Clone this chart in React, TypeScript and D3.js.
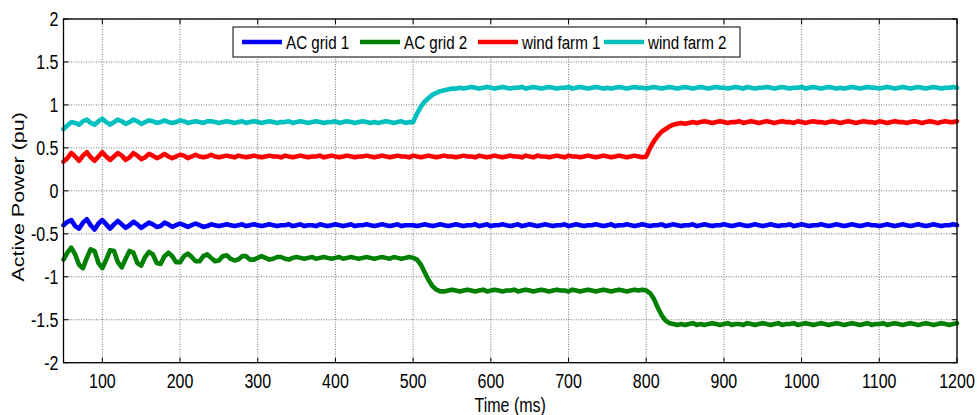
import React from "react";
import * as d3 from "d3";

// Sampling grid of the simulated traces (ms)
const T_START = 50;
const T_END = 1200;
const T_STEP = 5;

const xTicks = [100, 200, 300, 400, 500, 600, 700, 800, 900, 1000, 1100, 1200];
const yTicks = [-2, -1.5, -1, -0.5, 0, 0.5, 1, 1.5, 2];
const yTickLabels = ["-2", "-1.5", "-1", "-0.5", "0", "0.5", "1", "1.5", "2"];

const seriesNames = ["AC grid 1", "AC grid 2", "wind farm 1", "wind farm 2"];
const seriesColors = ["#0000ff", "#008000", "#ff0000", "#00bfbf"];

// Active power (pu), one value every 5 ms from 50 ms to 1200 ms
const acGrid1 = [
  -0.40,-0.36,-0.34,-0.41,-0.44,-0.37,-0.33,-0.40,-0.45,-0.38,-0.34,-0.39,-0.44,-0.39,-0.35,-0.39,-0.43,-0.40,-0.36,-0.39,
  -0.43,-0.40,-0.37,-0.39,-0.42,-0.41,-0.37,-0.39,-0.42,-0.40,-0.38,-0.40,-0.42,-0.40,-0.38,-0.40,-0.42,-0.41,-0.39,-0.40,
  -0.41,-0.40,-0.39,-0.40,-0.41,-0.40,-0.39,-0.41,-0.40,-0.39,-0.40,-0.41,-0.40,-0.39,-0.40,-0.41,-0.40,-0.40,-0.39,-0.41,
  -0.40,-0.39,-0.41,-0.40,-0.40,-0.41,-0.39,-0.40,-0.41,-0.40,-0.39,-0.40,-0.41,-0.40,-0.39,-0.41,-0.40,-0.40,-0.39,-0.40,
  -0.41,-0.40,-0.39,-0.40,-0.41,-0.40,-0.39,-0.41,-0.40,-0.40,-0.40,-0.41,-0.40,-0.39,-0.40,-0.41,-0.40,-0.39,-0.40,-0.41,
  -0.40,-0.39,-0.40,-0.41,-0.40,-0.40,-0.39,-0.41,-0.40,-0.39,-0.41,-0.40,-0.40,-0.39,-0.40,-0.41,-0.40,-0.39,-0.41,-0.40,
  -0.39,-0.40,-0.41,-0.40,-0.39,-0.40,-0.41,-0.40,-0.40,-0.39,-0.41,-0.40,-0.39,-0.40,-0.41,-0.40,-0.40,-0.39,-0.40,-0.41,
  -0.40,-0.39,-0.41,-0.40,-0.40,-0.39,-0.40,-0.41,-0.40,-0.39,-0.40,-0.41,-0.40,-0.40,-0.39,-0.41,-0.40,-0.39,-0.40,-0.41,
  -0.40,-0.40,-0.39,-0.41,-0.40,-0.39,-0.40,-0.41,-0.40,-0.40,-0.39,-0.40,-0.41,-0.40,-0.39,-0.40,-0.41,-0.40,-0.39,-0.40,
  -0.41,-0.40,-0.39,-0.40,-0.41,-0.40,-0.40,-0.39,-0.41,-0.40,-0.39,-0.40,-0.41,-0.40,-0.40,-0.39,-0.40,-0.41,-0.40,-0.39,
  -0.40,-0.41,-0.40,-0.39,-0.40,-0.41,-0.40,-0.39,-0.40,-0.40,-0.41,-0.40,-0.39,-0.40,-0.41,-0.40,-0.39,-0.40,-0.41,-0.40,
  -0.39,-0.40,-0.41,-0.40,-0.39,-0.40,-0.41,-0.40,-0.40,-0.39,-0.40,
];

const acGrid2 = [
  -0.80,-0.72,-0.66,-0.74,-0.86,-0.90,-0.78,-0.68,-0.70,-0.84,-0.90,-0.80,-0.69,-0.70,-0.83,-0.89,-0.79,-0.70,-0.72,-0.84,
  -0.87,-0.77,-0.71,-0.74,-0.84,-0.85,-0.76,-0.72,-0.76,-0.83,-0.83,-0.76,-0.73,-0.77,-0.82,-0.82,-0.76,-0.74,-0.78,-0.82,
  -0.81,-0.76,-0.75,-0.79,-0.81,-0.80,-0.76,-0.76,-0.80,-0.80,-0.78,-0.76,-0.78,-0.80,-0.79,-0.77,-0.77,-0.79,-0.80,-0.78,
  -0.77,-0.78,-0.79,-0.78,-0.77,-0.79,-0.78,-0.77,-0.78,-0.79,-0.78,-0.77,-0.79,-0.78,-0.77,-0.78,-0.79,-0.78,-0.77,-0.78,
  -0.79,-0.78,-0.77,-0.78,-0.79,-0.77,-0.78,-0.79,-0.78,-0.77,-0.78,-0.80,-0.86,-0.95,-1.04,-1.11,-1.15,-1.17,-1.17,-1.16,
  -1.15,-1.16,-1.17,-1.16,-1.15,-1.16,-1.17,-1.16,-1.15,-1.17,-1.16,-1.15,-1.16,-1.17,-1.16,-1.16,-1.15,-1.17,-1.16,-1.15,
  -1.16,-1.17,-1.16,-1.15,-1.16,-1.17,-1.16,-1.15,-1.16,-1.16,-1.17,-1.15,-1.16,-1.17,-1.16,-1.15,-1.16,-1.17,-1.16,-1.15,
  -1.16,-1.17,-1.16,-1.15,-1.16,-1.17,-1.16,-1.15,-1.16,-1.15,-1.16,-1.19,-1.26,-1.36,-1.45,-1.51,-1.54,-1.55,-1.56,-1.55,
  -1.56,-1.55,-1.54,-1.56,-1.55,-1.56,-1.55,-1.54,-1.55,-1.56,-1.55,-1.54,-1.56,-1.55,-1.55,-1.56,-1.54,-1.55,-1.56,-1.55,
  -1.54,-1.55,-1.56,-1.55,-1.54,-1.56,-1.55,-1.55,-1.54,-1.56,-1.55,-1.54,-1.55,-1.56,-1.55,-1.54,-1.55,-1.56,-1.55,-1.54,
  -1.55,-1.56,-1.55,-1.54,-1.55,-1.56,-1.55,-1.54,-1.56,-1.55,-1.55,-1.54,-1.56,-1.55,-1.54,-1.55,-1.56,-1.55,-1.54,-1.55,
  -1.56,-1.55,-1.54,-1.55,-1.56,-1.55,-1.54,-1.55,-1.56,-1.55,-1.54,
];

const windFarm1 = [
  0.34,0.38,0.44,0.40,0.35,0.41,0.45,0.39,0.35,0.40,0.45,0.40,0.36,0.40,0.44,0.41,0.36,0.39,0.44,0.41,
  0.37,0.39,0.43,0.41,0.38,0.40,0.43,0.40,0.38,0.40,0.42,0.41,0.38,0.40,0.42,0.40,0.39,0.40,0.42,0.40,
  0.39,0.40,0.41,0.40,0.39,0.41,0.40,0.39,0.40,0.41,0.40,0.39,0.40,0.41,0.40,0.40,0.39,0.41,0.40,0.39,
  0.40,0.41,0.40,0.39,0.40,0.40,0.41,0.39,0.40,0.41,0.40,0.39,0.40,0.41,0.40,0.39,0.40,0.40,0.41,0.40,
  0.39,0.40,0.41,0.40,0.39,0.40,0.41,0.40,0.40,0.39,0.41,0.40,0.39,0.40,0.41,0.40,0.39,0.40,0.41,0.40,
  0.40,0.39,0.40,0.41,0.40,0.40,0.39,0.41,0.40,0.39,0.40,0.41,0.40,0.39,0.40,0.41,0.40,0.40,0.39,0.41,
  0.40,0.39,0.41,0.40,0.40,0.39,0.40,0.41,0.40,0.39,0.41,0.40,0.40,0.39,0.40,0.41,0.40,0.39,0.40,0.41,
  0.40,0.39,0.40,0.41,0.40,0.39,0.40,0.41,0.40,0.39,0.40,0.50,0.58,0.64,0.69,0.72,0.75,0.77,0.78,0.79,
  0.78,0.79,0.80,0.79,0.80,0.81,0.80,0.79,0.80,0.81,0.80,0.79,0.80,0.80,0.81,0.79,0.80,0.81,0.80,0.79,
  0.80,0.81,0.80,0.79,0.80,0.81,0.80,0.80,0.79,0.81,0.80,0.79,0.80,0.81,0.80,0.80,0.79,0.80,0.81,0.80,
  0.79,0.80,0.81,0.80,0.79,0.80,0.81,0.80,0.80,0.79,0.81,0.80,0.79,0.80,0.81,0.80,0.80,0.79,0.80,0.81,
  0.80,0.79,0.80,0.81,0.80,0.79,0.80,0.81,0.80,0.80,0.81,
];

const windFarm2 = [
  0.72,0.76,0.80,0.79,0.77,0.81,0.83,0.79,0.77,0.81,0.84,0.80,0.77,0.80,0.83,0.81,0.78,0.80,0.83,0.81,
  0.78,0.80,0.82,0.81,0.79,0.80,0.82,0.80,0.79,0.80,0.82,0.81,0.79,0.80,0.81,0.80,0.79,0.81,0.81,0.80,
  0.79,0.80,0.81,0.80,0.79,0.80,0.81,0.79,0.80,0.81,0.80,0.79,0.80,0.81,0.80,0.79,0.80,0.80,0.81,0.79,
  0.80,0.81,0.80,0.79,0.80,0.81,0.80,0.79,0.80,0.80,0.81,0.79,0.80,0.81,0.80,0.79,0.80,0.81,0.80,0.79,
  0.80,0.79,0.80,0.81,0.80,0.79,0.80,0.81,0.79,0.80,0.80,0.90,0.98,1.04,1.08,1.12,1.14,1.16,1.17,1.18,
  1.19,1.19,1.20,1.19,1.20,1.21,1.20,1.19,1.20,1.21,1.20,1.19,1.20,1.21,1.20,1.19,1.20,1.20,1.21,1.19,
  1.20,1.21,1.20,1.19,1.20,1.21,1.20,1.19,1.20,1.20,1.21,1.19,1.20,1.21,1.20,1.19,1.20,1.21,1.20,1.19,
  1.20,1.19,1.20,1.21,1.20,1.19,1.20,1.21,1.20,1.20,1.19,1.20,1.21,1.20,1.19,1.20,1.21,1.20,1.19,1.20,
  1.21,1.20,1.19,1.20,1.21,1.20,1.19,1.20,1.21,1.20,1.20,1.19,1.20,1.21,1.20,1.19,1.21,1.20,1.19,1.20,
  1.20,1.21,1.20,1.19,1.20,1.21,1.20,1.19,1.20,1.20,1.21,1.19,1.20,1.21,1.20,1.19,1.20,1.21,1.20,1.19,
  1.20,1.19,1.20,1.21,1.20,1.19,1.20,1.21,1.20,1.20,1.19,1.20,1.21,1.20,1.19,1.20,1.21,1.20,1.19,1.20,
  1.21,1.20,1.19,1.20,1.21,1.20,1.19,1.20,1.20,1.21,1.20,
];

const seriesValues = [acGrid1, acGrid2, windFarm1, windFarm2];

const W = 978;
const H = 415;
const PLOT = { left: 63.5, right: 957, top: 19, bottom: 362.7 };
const FONT = "'Liberation Sans', Arial, sans-serif";
const SQUEEZE = 0.8;

export default function App() {
  const times = d3.range(T_START, T_END + T_STEP / 2, T_STEP);
  const x = d3.scaleLinear().domain([T_START, T_END]).range([PLOT.left, PLOT.right]);
  const y = d3.scaleLinear().domain([-2, 2]).range([PLOT.bottom, PLOT.top]);

  const line = d3
    .line<number>()
    .x((_, i) => x(times[i]))
    .y((v) => y(v));

  // legend layout: sample line start for each entry
  const legendBox = { x: 233, y: 27, w: 507, h: 30 };
  const legendLineX = [242, 360, 478, 604];
  const legendLineLen = 40;
  const legendMidY = legendBox.y + legendBox.h / 2;

  return (
    <svg
      width={W}
      height={H}
      style={{ position: "absolute", left: 0, top: 0, background: "#fff" }}
      fontFamily={FONT}
    >
      <rect x={0} y={0} width={W} height={H} fill="#fff" />

      {/* grid */}
      <g stroke="#7a7a7a" strokeWidth={1} strokeDasharray="1 1.5">
        {xTicks.map((t) => (
          <line key={"gx" + t} x1={x(t)} x2={x(t)} y1={PLOT.top} y2={PLOT.bottom} />
        ))}
        {yTicks.map((t) => (
          <line key={"gy" + t} x1={PLOT.left} x2={PLOT.right} y1={y(t)} y2={y(t)} />
        ))}
      </g>

      {/* traces */}
      <g fill="none" strokeWidth={4.6} strokeLinejoin="round" strokeLinecap="round">
        {seriesValues.map((vals, i) => (
          <path key={seriesNames[i]} d={line(vals) || ""} stroke={seriesColors[i]} />
        ))}
      </g>

      {/* frame and ticks */}
      <rect
        x={PLOT.left}
        y={PLOT.top}
        width={PLOT.right - PLOT.left}
        height={PLOT.bottom - PLOT.top}
        fill="none"
        stroke="#000"
        strokeWidth={1.3}
      />
      <g stroke="#000" strokeWidth={1}>
        {xTicks.map((t) => (
          <g key={"tx" + t}>
            <line x1={x(t)} x2={x(t)} y1={PLOT.bottom} y2={PLOT.bottom - 5} />
            <line x1={x(t)} x2={x(t)} y1={PLOT.top} y2={PLOT.top + 5} />
          </g>
        ))}
        {yTicks.map((t) => (
          <g key={"ty" + t}>
            <line x1={PLOT.left} x2={PLOT.left + 5} y1={y(t)} y2={y(t)} />
            <line x1={PLOT.right} x2={PLOT.right - 5} y1={y(t)} y2={y(t)} />
          </g>
        ))}
      </g>

      {/* tick labels */}
      <g fontSize={20} fill="#000">
        {xTicks.map((t) => (
          <text
            key={"lx" + t}
            transform={`translate(${x(t)},${PLOT.bottom + 25}) scale(${SQUEEZE},1)`}
            textAnchor="middle"
          >
            {t}
          </text>
        ))}
        {yTicks.map((t, i) => (
          <text
            key={"ly" + t}
            transform={`translate(${PLOT.left - 5},${y(t) + 7}) scale(${SQUEEZE},1)`}
            textAnchor="end"
          >
            {yTickLabels[i]}
          </text>
        ))}
      </g>

      {/* axis titles */}
      <text
        transform={`translate(${(PLOT.left + PLOT.right) / 2},${H - 3}) scale(${SQUEEZE},1)`}
        textAnchor="middle"
        fontSize={20}
      >
        Time (ms)
      </text>
      <text
        transform={`translate(24,${(PLOT.top + PLOT.bottom) / 2 + 6}) scale(${SQUEEZE},1) rotate(-90)`}
        textAnchor="middle"
        fontSize={21.5}
      >
        Active Power (pu)
      </text>

      {/* legend */}
      <rect
        x={legendBox.x}
        y={legendBox.y}
        width={legendBox.w}
        height={legendBox.h}
        fill="#fff"
        stroke="#000"
        strokeWidth={1}
      />
      {seriesNames.map((name, i) => (
        <g key={"lg" + name}>
          <line
            x1={legendLineX[i]}
            x2={legendLineX[i] + legendLineLen}
            y1={legendMidY}
            y2={legendMidY}
            stroke={seriesColors[i]}
            strokeWidth={4.6}
          />
          <text
            transform={`translate(${legendLineX[i] + legendLineLen + 4},${legendMidY + 7}) scale(${SQUEEZE},1)`}
            fontSize={19}
          >
            {name}
          </text>
        </g>
      ))}
    </svg>
  );
}
